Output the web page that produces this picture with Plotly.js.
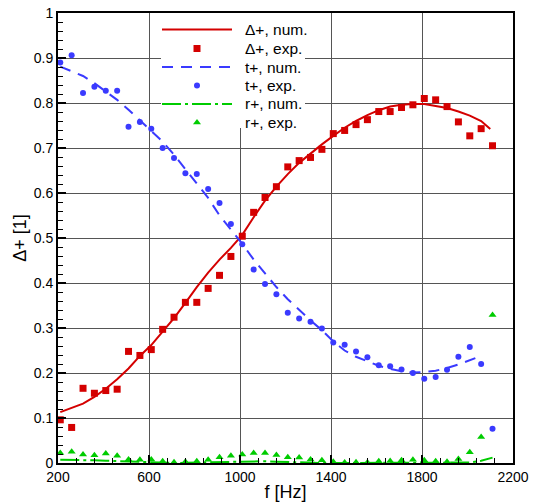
<!DOCTYPE html>
<html>
<head>
<meta charset="utf-8">
<script src="https://cdn.plot.ly/plotly-3.0.1.min.js"></script>
<style>html,body{margin:0;padding:0;background:#fff;}#chart{width:534px;height:502px;}</style>
</head>
<body>
<div id="chart"></div>
<script>
// experimental frequencies (Hz)
const fExp = [210,260,310,360,410,460,510,560,610,660,710,760,810,860,910,960,1010,1060,1110,1160,1210,1260,1310,1360,1410,1460,1510,1560,1610,1660,1710,1760,1810,1860,1910,1960,2010,2060,2110];
const deltaExp = [0.096,0.079,0.166,0.155,0.161,0.164,0.248,0.239,0.252,0.297,0.324,0.357,0.357,0.388,0.417,0.459,0.504,0.557,0.590,0.614,0.658,0.672,0.679,0.697,0.732,0.739,0.752,0.763,0.781,0.781,0.790,0.796,0.810,0.807,0.792,0.758,0.727,0.743,0.705];
const tExp = [0.890,0.906,0.822,0.836,0.827,0.827,0.747,0.758,0.743,0.700,0.678,0.644,0.642,0.609,0.578,0.531,0.486,0.430,0.398,0.375,0.334,0.321,0.314,0.299,0.268,0.263,0.248,0.235,0.217,0.215,0.208,0.200,0.187,0.191,0.207,0.236,0.258,0.220,0.076];
const rExp = [0.022,0.025,0.019,0.017,0.021,0.016,0.008,0.007,0.008,0.004,0.0015,0.003,0.004,0.007,0.013,0.016,0.019,0.022,0.022,0.018,0.013,0.012,0.008,0.006,0.003,0.001,0.0015,0.001,0.004,0.0045,0.006,0.007,0.006,0.004,0.003,0.009,0.024,0.058,0.329];

// numerical results
const fNum = [210,260,310,360,410,460,510,560,610,660,710,760,810,860,910,960,1010,1060,1110,1160,1210,1260,1310,1360,1410,1460,1510,1560,1610,1660,1710,1760,1810,1860,1910,1960,2010,2060,2100];
const deltaNum = [0.113,0.122,0.132,0.147,0.165,0.186,0.210,0.238,0.262,0.292,0.322,0.356,0.391,0.423,0.452,0.478,0.507,0.546,0.583,0.614,0.642,0.667,0.688,0.708,0.727,0.745,0.760,0.773,0.784,0.792,0.796,0.798,0.798,0.794,0.789,0.781,0.772,0.760,0.742];
const fNumT = [210,260,310,360,410,460,510,560,610,660,710,760,810,860,910,960,1010,1060,1110,1160,1210,1260,1310,1360,1410,1460,1510,1560,1610,1660,1710,1760,1810,1860,1910,1960,2010,2060];
const tNum = [0.881,0.871,0.860,0.844,0.826,0.807,0.785,0.762,0.739,0.714,0.685,0.653,0.619,0.589,0.550,0.518,0.487,0.452,0.422,0.391,0.364,0.340,0.317,0.295,0.270,0.250,0.236,0.226,0.216,0.209,0.204,0.201,0.202,0.205,0.211,0.219,0.228,0.238];
const fNumR = [210,260,310,360,410,460,510,560,610,660,710,760,810,860,910,960,1010,1060,1110,1160,1210,1260,1310,1360,1410,1460,1510,1560,1610,1660,1710,1760,1810,1860,1910,1960,2010,2060,2110];
const rNum = [0.007,0.007,0.007,0.006,0.005,0.004,0.003,0.002,0.001,0.0005,0,0.0005,0.001,0.002,0.003,0.004,0.004,0.004,0.004,0.003,0.002,0.001,0.0005,0,0,0,0,0,0,0,0,0,0,0,0,0.0005,0.001,0.005,0.012];

const xTicks = [200,600,1000,1400,1800,2200];
const seriesNames = ['Δ+, num.','Δ+, exp.','t+, num.','t+, exp.','r+, num.','r+, exp.'];

const red = '#d40000', blue = '#3a3aff', green = '#00cc00';
const styles = [
  {mode:'lines', line:{color:red, width:2}},
  {mode:'markers', marker:{symbol:'square', size:7, color:red}},
  {mode:'lines', line:{color:blue, width:2, dash:'11px,8px'}},
  {mode:'markers', marker:{symbol:'circle', size:6, color:blue}},
  {mode:'lines', line:{color:green, width:2, dash:'19px,4px,3px,4px'}},
  {mode:'markers', marker:{symbol:'triangle-up', size:7, color:green}}
];
const xs = [fNum, fExp, fNumT, fExp, fNumR, fExp];
const ys = [deltaNum, deltaExp, tNum, tExp, rNum, rExp];

const traces = styles.map((s, i) => Object.assign({type:'scatter', cliponaxis:false, showlegend:false,
  x:xs[i], y:ys[i], name:seriesNames[i]}, s));

// hand-placed legend drawn on an invisible overlay subplot (0..1 over the plot area)
const W = 455, H = 450, L = 58, T = 13;
const dx = px => (px - L) / W;
const dy = py => (T + H - py) / H;
const rowsPx = [29.5, 48.5, 67, 85.5, 104, 122.5];
traces.push({type:'scatter', mode:'lines', xaxis:'x2', yaxis:'y2', showlegend:false, hoverinfo:'skip',
  x:[dx(161), dx(305), dx(305), dx(161), dx(161)], y:[dy(128), dy(128), 1, 1, dy(128)],
  fill:'toself', fillcolor:'#ffffff', line:{width:0, color:'rgba(0,0,0,0)'}});
const annotations = [];
styles.forEach((s, i) => {
  const yy = dy(rowsPx[i]);
  if (s.mode === 'lines') {
    traces.push({type:'scatter', mode:'lines', xaxis:'x2', yaxis:'y2', showlegend:false, hoverinfo:'skip',
      x:[dx(162), dx(232)], y:[yy, yy], line:s.line});
  } else {
    traces.push({type:'scatter', mode:'markers', xaxis:'x2', yaxis:'y2', showlegend:false, cliponaxis:false,
      x:[dx(197)], y:[yy], marker:s.marker, hoverinfo:'skip'});
  }
  annotations.push({xref:'paper', yref:'paper', x:dx(243), y:yy, xanchor:'left', yanchor:'middle',
    text:seriesNames[i], showarrow:false, font:{size:15.5, color:'#000'}});
});

const layout = {
  width:534, height:502,
  margin:{l:L, r:534 - L - W, t:T, b:502 - T - H},
  paper_bgcolor:'#fff', plot_bgcolor:'#fff',
  font:{family:'Liberation Sans, Arial, sans-serif', color:'#000', size:14},
  showlegend:false,
  annotations:annotations,
  xaxis:{range:[200,2200], tickvals:xTicks, ticktext:xTicks.map(String),
         ticks:'inside', ticklen:8, tickwidth:1.5, tickcolor:'#000',
         showline:true, linecolor:'#000', linewidth:2, mirror:true,
         showgrid:true, gridcolor:'#555', gridwidth:1, zeroline:false,
         minor:{tick0:200, dtick:80, ticks:'inside', ticklen:5, tickwidth:1, tickcolor:'#000', showgrid:false},
         title:{text:'f [Hz]', font:{size:18}, standoff:4}, tickfont:{size:14}},
  yaxis:{range:[0,1], dtick:0.1, tick0:0,
         ticks:'inside', ticklen:8, tickwidth:1.5, tickcolor:'#000',
         showline:true, linecolor:'#000', linewidth:2, mirror:true,
         showgrid:true, gridcolor:'#555', gridwidth:1, zeroline:false,
         minor:{dtick:0.02, ticks:'inside', ticklen:5, tickwidth:1, tickcolor:'#000', showgrid:false},
         title:{text:'Δ+ [1]', font:{size:18}, standoff:2}, tickfont:{size:14}},
  xaxis2:{overlaying:'x', range:[0,1], visible:false, fixedrange:true},
  yaxis2:{overlaying:'y', range:[0,1], visible:false, fixedrange:true}
};
Plotly.newPlot('chart', traces, layout, {displayModeBar:false, staticPlot:true});
</script>
</body>
</html>
